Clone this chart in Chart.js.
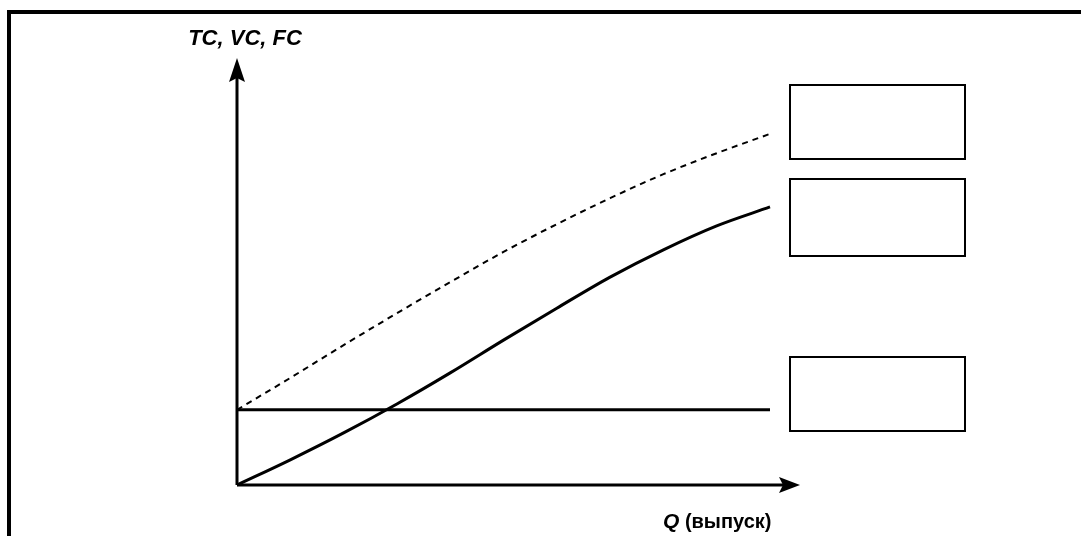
<!DOCTYPE html>
<html>
<head>
<meta charset="utf-8">
<script src="https://cdn.jsdelivr.net/npm/chart.js@4"></script>
<style>
  body { margin: 0; background: #fff; }
  #wrap { position: relative; width: 1081px; height: 536px; }
  #frame { position: absolute; left: 7px; top: 10px; right: 0; bottom: 0;
           border-left: 4px solid #000; border-top: 4px solid #000; }
  canvas { position: absolute; left: 0; top: 0; }
</style>
</head>
<body>
<div id="wrap">
  <div id="frame"></div>
  <canvas id="myChart" width="1081" height="536"></canvas>
</div>
<script>
const output = [0, 1, 2, 3, 4, 5, 6, 7, 8, 9, 10];
const totalCost = [17.9, 25.5, 33.3, 40.9, 48.3, 55.5, 62.1, 68.3, 74.0, 79.0, 83.6];
const variableCost = [0, 6.0, 12.4, 19.3, 26.7, 34.5, 42.1, 49.5, 56.0, 61.7, 66.2];
const fixedCost = [17.9, 17.9, 17.9, 17.9, 17.9, 17.9, 17.9, 17.9, 17.9, 17.9, 17.9];

const yAxisTitle = 'TC, VC, FC';
const xAxisTitleItalic = 'Q';
const xAxisTitleRest = ' (выпуск)';

const toPoints = (vals) => vals.map((v, i) => ({ x: output[i], y: v }));

// axes with arrows, titles and empty label boxes
const sketchPlugin = {
    id: 'sketch',
    afterDraw(chart) {
        const ctx = chart.ctx;
        const a = chart.chartArea;
        ctx.save();
        ctx.strokeStyle = '#000';
        ctx.fillStyle = '#000';
        ctx.lineWidth = 3;

        ctx.beginPath();
        ctx.moveTo(a.left, a.bottom);
        ctx.lineTo(a.right + 15, a.bottom);
        ctx.moveTo(a.left, a.bottom);
        ctx.lineTo(a.left, a.top + 10);
        ctx.stroke();

        // x arrow
        ctx.beginPath();
        ctx.moveTo(a.right + 30, a.bottom);
        ctx.lineTo(a.right + 9, a.bottom - 8);
        ctx.lineTo(a.right + 13, a.bottom);
        ctx.lineTo(a.right + 9, a.bottom + 8);
        ctx.closePath();
        ctx.fill();

        // y arrow
        ctx.beginPath();
        ctx.moveTo(a.left, a.top - 7);
        ctx.lineTo(a.left - 8, a.top + 17);
        ctx.lineTo(a.left, a.top + 13);
        ctx.lineTo(a.left + 8, a.top + 17);
        ctx.closePath();
        ctx.fill();

        // titles
        ctx.textBaseline = 'alphabetic';
        ctx.textAlign = 'center';
        ctx.font = 'italic bold 22px "Liberation Sans", Arial, sans-serif';
        ctx.fillText(yAxisTitle, a.left + 8, 45);

        ctx.textAlign = 'left';
        ctx.font = 'italic bold 21px "Liberation Sans", Arial, sans-serif';
        const qx = a.right - 107;
        ctx.fillText(xAxisTitleItalic, qx, 528);
        const qw = ctx.measureText(xAxisTitleItalic).width;
        ctx.font = 'bold 20px "Liberation Sans", Arial, sans-serif';
        ctx.fillText(xAxisTitleRest, qx + qw, 528);

        // empty boxes
        ctx.lineWidth = 2;
        const bx = a.right + 20;
        const bw = 175;
        [[85, 74], [179, 77], [357, 74]].forEach(([by, bh]) => {
            ctx.strokeRect(bx, by, bw, bh);
        });
        ctx.restore();
    }
};

const myCanvas = document.getElementById('myChart').getContext('2d');

const myChart = new Chart(myCanvas, {
    type: 'line',
    data: {
        datasets: [{
            label: 'TC',
            data: toPoints(totalCost),
            borderColor: '#000',
            borderWidth: 2,
            borderDash: [6, 5],
            pointRadius: 0,
            cubicInterpolationMode: 'monotone',
            clip: false,
        }, {
            label: 'VC',
            data: toPoints(variableCost),
            borderColor: '#000',
            borderWidth: 3,
            pointRadius: 0,
            cubicInterpolationMode: 'monotone',
            clip: false,
        }, {
            label: 'FC',
            data: toPoints(fixedCost),
            borderColor: '#000',
            borderWidth: 3,
            pointRadius: 0,
            clip: false,
        }],
    },
    options: {
        responsive: false,
        animation: false,
        layout: {
            padding: { left: 237, right: 311, top: 65, bottom: 51 }
        },
        scales: {
            x: { type: 'linear', min: 0, max: 10, display: false },
            y: { min: 0, max: 100, display: false }
        },
        plugins: {
            legend: { display: false },
            tooltip: { enabled: false }
        }
    },
    plugins: [sketchPlugin]
});
</script>
</body>
</html>
